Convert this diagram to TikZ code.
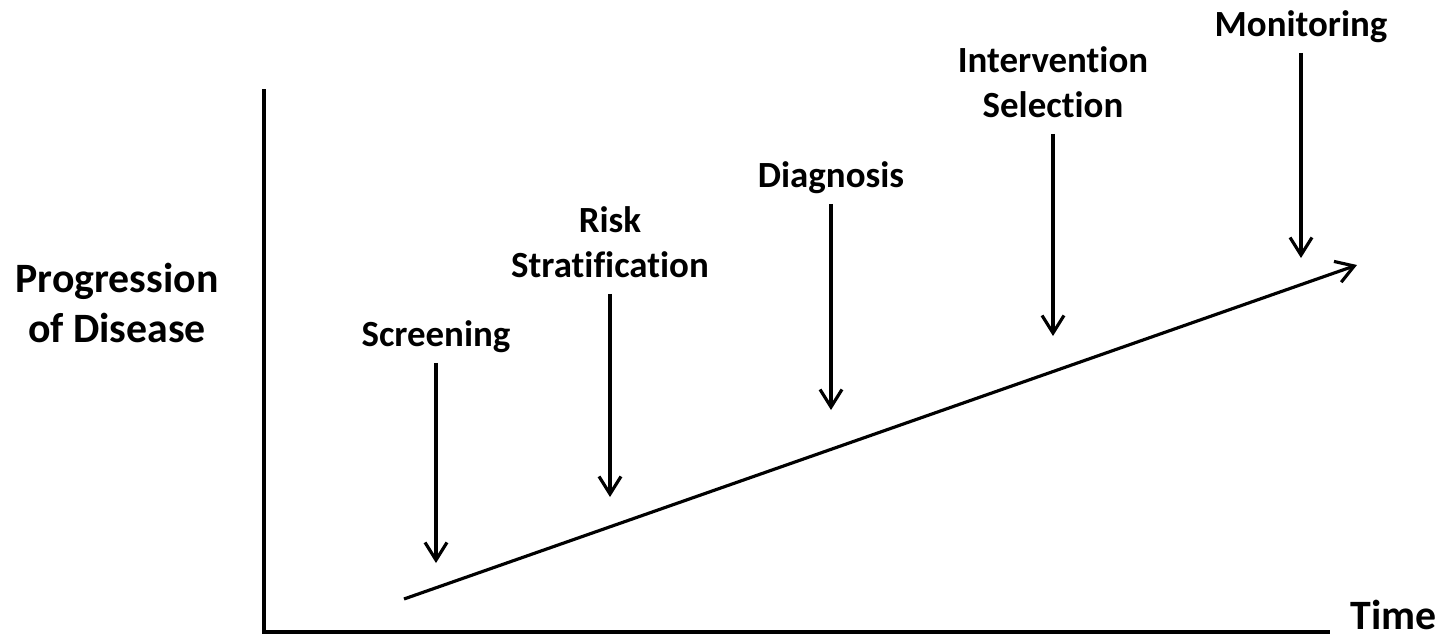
\documentclass[tikz,border=0pt]{standalone}
\usepackage{fontspec}
\setmainfont[Ligatures=NoCommon]{Carlito}
\usetikzlibrary{arrows.meta}

\begin{document}
\begin{tikzpicture}[x=0.02cm, y=-0.02cm,
        >={Straight Barb[length=10pt,width=12.5pt]},
        lbl/.style={font=\fontsize{21}{25.5}\selectfont\bfseries, align=center,
            inner sep=0pt, text depth=0pt, anchor=south},
        axislbl/.style={font=\fontsize{23.8}{28.3}\selectfont\bfseries, align=center,
            inner sep=0pt, text depth=0pt},
        cue/.style={->, line width=1.8pt, shorten <=9pt}]
        \useasboundingbox (0,0) rectangle (1441,636);

        % Axes
        \coordinate (ytop) at (264,89);
        \coordinate (origin) at (264,632);
        \coordinate (xend) at (1330,632);
        \draw[line width=1.8pt, line join=miter] (ytop) -- (origin) -- (xend);
        \node[axislbl, anchor=south west] (time) at (1350,630) {Time};
        \node[axislbl, anchor=south] (prog) at (117,343) {Progression\\of Disease};

        % Progression line
        \coordinate (start) at (404,599);
        \coordinate (end) at (1357,265);
        \draw[->, line width=1.8pt] (start) -- (end);

        % Stages
        \node[lbl] (scr) at (436,347) {Screening};
        \node[lbl] (risk) at (610,278) {Risk\\Stratification};
        \node[lbl] (diag) at (831,188) {Diagnosis};
        \node[lbl] (int) at (1053,118) {Intervention\\Selection};
        \node[lbl] (mon) at (1301,37) {Monitoring};

        % Arrows from stages down to the line
        \foreach \n/\x/\y in {scr/436/563, risk/610/497, diag/831/410, int/1053/336, mon/1301/258} {
            \coordinate (\n-tip) at (\x,\y);
            \draw[cue] (\n.south) -- (\n-tip);
        }
    \end{tikzpicture}
\end{document}
